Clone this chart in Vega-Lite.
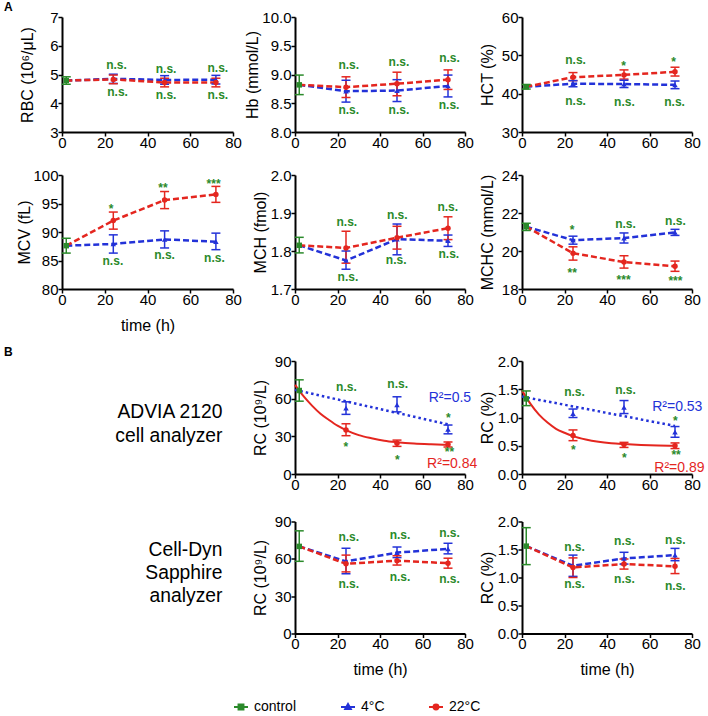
{
"$schema": "https://vega.github.io/schema/vega-lite/v6.json",
"autosize": {"type": "pad"},
"padding": {"left": 4, "top": 0, "right": 4, "bottom": 4},
"background": "white",
"config": {
  "font": "Liberation Sans",
  "view": {"stroke": null},
  "axis": {"grid": false, "domainColor": "#000", "domainWidth": 2, "tickColor": "#000", "tickWidth": 1.5, "tickSize": 4, "labelColor": "#000", "labelFontSize": 15, "titleColor": "#000", "titleFontSize": 16, "titleFontWeight": "normal", "labelFont": "Liberation Sans", "titleFont": "Liberation Sans"},
  "axisX": {"labelPadding": -1, "titlePadding": 10, "labelFlush": false, "titleFontWeight": "normal"},
  "axisY": {"labelPadding": 0, "titleX": -27, "titleFontWeight": "normal"},
  "legend": {"labelFontSize": 14, "labelColor": "#000", "labelFont": "Liberation Sans", "labelOffset": 5, "columnPadding": 40, "symbolSize": 196, "padding": 0},
  "title": {"font": "Liberation Sans", "fontSize": 12, "fontWeight": "bold", "color": "#000"}
},
"datasets": {"d": [
{"p":"RBC","k":"pt","g":"control","t":2,"y":4.79,"lo":4.66,"hi":4.92},
{"p":"RBC","k":"pt","g":"4°C","t":24,"y":4.85,"lo":4.69,"hi":5.01},
{"p":"RBC","k":"pt","g":"4°C","t":48,"y":4.81,"lo":4.66,"hi":4.96},
{"p":"RBC","k":"pt","g":"4°C","t":72,"y":4.82,"lo":4.67,"hi":4.97},
{"p":"RBC","k":"pt","g":"22°C","t":24,"y":4.83,"lo":4.68,"hi":4.98},
{"p":"RBC","k":"pt","g":"22°C","t":48,"y":4.72,"lo":4.57,"hi":4.87},
{"p":"RBC","k":"pt","g":"22°C","t":72,"y":4.72,"lo":4.57,"hi":4.87},
{"p":"RBC","k":"ln","g":"4°C","t":2,"y":4.79},
{"p":"RBC","k":"ln","g":"4°C","t":24,"y":4.85},
{"p":"RBC","k":"ln","g":"4°C","t":48,"y":4.81},
{"p":"RBC","k":"ln","g":"4°C","t":72,"y":4.82},
{"p":"RBC","k":"ln","g":"22°C","t":2,"y":4.79},
{"p":"RBC","k":"ln","g":"22°C","t":24,"y":4.83},
{"p":"RBC","k":"ln","g":"22°C","t":48,"y":4.72},
{"p":"RBC","k":"ln","g":"22°C","t":72,"y":4.72},
{"p":"RBC","k":"ann","t":25.5,"y":5.33,"s":"n.s."},
{"p":"RBC","k":"ann","t":48.7,"y":5.19,"s":"n.s."},
{"p":"RBC","k":"ann","t":72.9,"y":5.24,"s":"n.s."},
{"p":"RBC","k":"ann","t":26,"y":4.39,"s":"n.s."},
{"p":"RBC","k":"ann","t":48.7,"y":4.27,"s":"n.s."},
{"p":"RBC","k":"ann","t":72.9,"y":4.3,"s":"n.s."},

{"p":"Hb","k":"pt","g":"control","t":2,"y":8.82,"lo":8.65,"hi":8.99},
{"p":"Hb","k":"pt","g":"4°C","t":24,"y":8.71,"lo":8.52,"hi":8.9},
{"p":"Hb","k":"pt","g":"4°C","t":48,"y":8.72,"lo":8.53,"hi":8.91},
{"p":"Hb","k":"pt","g":"4°C","t":72,"y":8.8,"lo":8.61,"hi":8.99},
{"p":"Hb","k":"pt","g":"22°C","t":24,"y":8.78,"lo":8.6,"hi":8.96},
{"p":"Hb","k":"pt","g":"22°C","t":48,"y":8.84,"lo":8.63,"hi":9.04},
{"p":"Hb","k":"pt","g":"22°C","t":72,"y":8.91,"lo":8.74,"hi":9.08},
{"p":"Hb","k":"ln","g":"4°C","t":2,"y":8.82},
{"p":"Hb","k":"ln","g":"4°C","t":24,"y":8.71},
{"p":"Hb","k":"ln","g":"4°C","t":48,"y":8.72},
{"p":"Hb","k":"ln","g":"4°C","t":72,"y":8.8},
{"p":"Hb","k":"ln","g":"22°C","t":2,"y":8.82},
{"p":"Hb","k":"ln","g":"22°C","t":24,"y":8.78},
{"p":"Hb","k":"ln","g":"22°C","t":48,"y":8.84},
{"p":"Hb","k":"ln","g":"22°C","t":72,"y":8.91},
{"p":"Hb","k":"ann","t":25.3,"y":9.16,"s":"n.s."},
{"p":"Hb","k":"ann","t":48.9,"y":9.21,"s":"n.s."},
{"p":"Hb","k":"ann","t":72.7,"y":9.29,"s":"n.s."},
{"p":"Hb","k":"ann","t":25.3,"y":8.39,"s":"n.s."},
{"p":"Hb","k":"ann","t":48.9,"y":8.39,"s":"n.s."},
{"p":"Hb","k":"ann","t":72.5,"y":8.47,"s":"n.s."},

{"p":"HCT","k":"pt","g":"control","t":2,"y":41.8,"lo":41.2,"hi":42.4},
{"p":"HCT","k":"pt","g":"4°C","t":24,"y":42.6,"lo":41.8,"hi":43.4},
{"p":"HCT","k":"pt","g":"4°C","t":48,"y":42.5,"lo":41.6,"hi":43.5},
{"p":"HCT","k":"pt","g":"4°C","t":72,"y":42.3,"lo":41.3,"hi":43.3},
{"p":"HCT","k":"pt","g":"22°C","t":24,"y":44.3,"lo":43.4,"hi":45.5},
{"p":"HCT","k":"pt","g":"22°C","t":48,"y":44.9,"lo":43.8,"hi":46.2},
{"p":"HCT","k":"pt","g":"22°C","t":72,"y":45.7,"lo":44.6,"hi":46.9},
{"p":"HCT","k":"ln","g":"4°C","t":2,"y":41.8},
{"p":"HCT","k":"ln","g":"4°C","t":24,"y":42.6},
{"p":"HCT","k":"ln","g":"4°C","t":48,"y":42.5},
{"p":"HCT","k":"ln","g":"4°C","t":72,"y":42.3},
{"p":"HCT","k":"ln","g":"22°C","t":2,"y":41.8},
{"p":"HCT","k":"ln","g":"22°C","t":24,"y":44.3},
{"p":"HCT","k":"ln","g":"22°C","t":48,"y":44.9},
{"p":"HCT","k":"ln","g":"22°C","t":72,"y":45.7},
{"p":"HCT","k":"ann","t":25.2,"y":48.8,"s":"n.s."},
{"p":"HCT","k":"ann","t":47.8,"y":48.1,"s":"*"},
{"p":"HCT","k":"ann","t":71.3,"y":49.0,"s":"*"},
{"p":"HCT","k":"ann","t":25.2,"y":38.2,"s":"n.s."},
{"p":"HCT","k":"ann","t":48.2,"y":37.9,"s":"n.s."},
{"p":"HCT","k":"ann","t":71.8,"y":37.9,"s":"n.s."},

{"p":"MCV","k":"pt","g":"control","t":2,"y":87.6,"lo":86.3,"hi":88.9},
{"p":"MCV","k":"pt","g":"4°C","t":24,"y":87.9,"lo":86.3,"hi":89.5},
{"p":"MCV","k":"pt","g":"4°C","t":48,"y":88.7,"lo":87.2,"hi":90.2},
{"p":"MCV","k":"pt","g":"4°C","t":72,"y":88.3,"lo":86.9,"hi":89.8},
{"p":"MCV","k":"pt","g":"22°C","t":24,"y":92.0,"lo":90.5,"hi":93.5},
{"p":"MCV","k":"pt","g":"22°C","t":48,"y":95.6,"lo":94.1,"hi":97.1},
{"p":"MCV","k":"pt","g":"22°C","t":72,"y":96.6,"lo":95.2,"hi":98.0},
{"p":"MCV","k":"ln","g":"4°C","t":2,"y":87.6},
{"p":"MCV","k":"ln","g":"4°C","t":24,"y":87.9},
{"p":"MCV","k":"ln","g":"4°C","t":48,"y":88.7},
{"p":"MCV","k":"ln","g":"4°C","t":72,"y":88.3},
{"p":"MCV","k":"ln","g":"22°C","t":2,"y":87.6},
{"p":"MCV","k":"ln","g":"22°C","t":24,"y":92.0},
{"p":"MCV","k":"ln","g":"22°C","t":48,"y":95.6},
{"p":"MCV","k":"ln","g":"22°C","t":72,"y":96.6},
{"p":"MCV","k":"ann","t":23.0,"y":94.6,"s":"*"},
{"p":"MCV","k":"ann","t":47.2,"y":98.2,"s":"**"},
{"p":"MCV","k":"ann","t":70.9,"y":98.9,"s":"***"},
{"p":"MCV","k":"ann","t":23.8,"y":84.9,"s":"n.s."},
{"p":"MCV","k":"ann","t":48,"y":86.0,"s":"n.s."},
{"p":"MCV","k":"ann","t":71.3,"y":85.5,"s":"n.s."},

{"p":"MCH","k":"pt","g":"control","t":2,"y":1.815,"lo":1.795,"hi":1.836},
{"p":"MCH","k":"pt","g":"4°C","t":24,"y":1.775,"lo":1.752,"hi":1.8},
{"p":"MCH","k":"pt","g":"4°C","t":48,"y":1.831,"lo":1.79,"hi":1.871},
{"p":"MCH","k":"pt","g":"4°C","t":72,"y":1.827,"lo":1.812,"hi":1.842},
{"p":"MCH","k":"pt","g":"22°C","t":24,"y":1.808,"lo":1.768,"hi":1.852},
{"p":"MCH","k":"pt","g":"22°C","t":48,"y":1.835,"lo":1.805,"hi":1.865},
{"p":"MCH","k":"pt","g":"22°C","t":72,"y":1.86,"lo":1.83,"hi":1.89},
{"p":"MCH","k":"ln","g":"4°C","t":2,"y":1.815},
{"p":"MCH","k":"ln","g":"4°C","t":24,"y":1.775},
{"p":"MCH","k":"ln","g":"4°C","t":48,"y":1.831},
{"p":"MCH","k":"ln","g":"4°C","t":72,"y":1.827},
{"p":"MCH","k":"ln","g":"22°C","t":2,"y":1.815},
{"p":"MCH","k":"ln","g":"22°C","t":24,"y":1.808},
{"p":"MCH","k":"ln","g":"22°C","t":48,"y":1.835},
{"p":"MCH","k":"ln","g":"22°C","t":72,"y":1.86},
{"p":"MCH","k":"ann","t":24.4,"y":1.876,"s":"n.s."},
{"p":"MCH","k":"ann","t":48.1,"y":1.896,"s":"n.s."},
{"p":"MCH","k":"ann","t":71.9,"y":1.916,"s":"n.s."},
{"p":"MCH","k":"ann","t":24.9,"y":1.732,"s":"n.s."},
{"p":"MCH","k":"ann","t":47.6,"y":1.776,"s":"n.s."},
{"p":"MCH","k":"ann","t":72.4,"y":1.792,"s":"n.s."},

{"p":"MCHC","k":"pt","g":"control","t":2,"y":21.28,"lo":21.08,"hi":21.46},
{"p":"MCHC","k":"pt","g":"4°C","t":24,"y":20.57,"lo":20.36,"hi":20.78},
{"p":"MCHC","k":"pt","g":"4°C","t":48,"y":20.68,"lo":20.42,"hi":20.95},
{"p":"MCHC","k":"pt","g":"4°C","t":72,"y":20.98,"lo":20.82,"hi":21.14},
{"p":"MCHC","k":"pt","g":"22°C","t":24,"y":19.88,"lo":19.52,"hi":20.22},
{"p":"MCHC","k":"pt","g":"22°C","t":48,"y":19.42,"lo":19.1,"hi":19.75},
{"p":"MCHC","k":"pt","g":"22°C","t":72,"y":19.2,"lo":18.93,"hi":19.47},
{"p":"MCHC","k":"ln","g":"4°C","t":2,"y":21.28},
{"p":"MCHC","k":"ln","g":"4°C","t":24,"y":20.57},
{"p":"MCHC","k":"ln","g":"4°C","t":48,"y":20.68},
{"p":"MCHC","k":"ln","g":"4°C","t":72,"y":20.98},
{"p":"MCHC","k":"ln","g":"22°C","t":2,"y":21.28},
{"p":"MCHC","k":"ln","g":"22°C","t":24,"y":19.88},
{"p":"MCHC","k":"ln","g":"22°C","t":48,"y":19.42},
{"p":"MCHC","k":"ln","g":"22°C","t":72,"y":19.2},
{"p":"MCHC","k":"ann","t":23.6,"y":21.25,"s":"*"},
{"p":"MCHC","k":"ann","t":48.7,"y":21.4,"s":"n.s."},
{"p":"MCHC","k":"ann","t":72.2,"y":21.6,"s":"n.s."},
{"p":"MCHC","k":"ann","t":23.6,"y":19.0,"s":"**"},
{"p":"MCHC","k":"ann","t":47.8,"y":18.64,"s":"***"},
{"p":"MCHC","k":"ann","t":72.2,"y":18.57,"s":"***"},

{"p":"ARC","k":"pt","g":"control","t":2,"y":66.5,"lo":58,"hi":75},
{"p":"ARC","k":"pt","g":"4°C","t":24,"y":52.5,"lo":47.5,"hi":57.5},
{"p":"ARC","k":"pt","g":"4°C","t":48,"y":55,"lo":49.5,"hi":61.5},
{"p":"ARC","k":"pt","g":"4°C","t":72,"y":35.5,"lo":32,"hi":39},
{"p":"ARC","k":"pt","g":"22°C","t":24,"y":35,"lo":30.5,"hi":40},
{"p":"ARC","k":"pt","g":"22°C","t":48,"y":24.5,"lo":22,"hi":27},
{"p":"ARC","k":"pt","g":"22°C","t":72,"y":23.5,"lo":21.5,"hi":25.5},
{"p":"ARC","k":"fit","g":"4°C","t":0,"y":67},
{"p":"ARC","k":"fit","g":"4°C","t":72,"y":39.5},
{"p":"ARC","k":"fit","g":"22°C","t":0,"y":71},
{"p":"ARC","k":"fit","g":"22°C","t":4,"y":62},
{"p":"ARC","k":"fit","g":"22°C","t":8,"y":54.5},
{"p":"ARC","k":"fit","g":"22°C","t":12,"y":48},
{"p":"ARC","k":"fit","g":"22°C","t":16,"y":43},
{"p":"ARC","k":"fit","g":"22°C","t":20,"y":38.5},
{"p":"ARC","k":"fit","g":"22°C","t":24,"y":35},
{"p":"ARC","k":"fit","g":"22°C","t":30,"y":31},
{"p":"ARC","k":"fit","g":"22°C","t":36,"y":28.5},
{"p":"ARC","k":"fit","g":"22°C","t":42,"y":26.5},
{"p":"ARC","k":"fit","g":"22°C","t":48,"y":25.3},
{"p":"ARC","k":"fit","g":"22°C","t":56,"y":24.2},
{"p":"ARC","k":"fit","g":"22°C","t":64,"y":23.6},
{"p":"ARC","k":"fit","g":"22°C","t":72,"y":23.2},
{"p":"ARC","k":"ann","t":24.2,"y":69.6,"s":"n.s."},
{"p":"ARC","k":"ann","t":48.3,"y":71.5,"s":"n.s."},
{"p":"ARC","k":"ann","t":72.2,"y":46.8,"s":"*"},
{"p":"ARC","k":"ann","t":23.9,"y":23.8,"s":"*"},
{"p":"ARC","k":"ann","t":48.1,"y":13.7,"s":"*"},
{"p":"ARC","k":"ann","t":72.7,"y":20,"s":"**"},
{"p":"ARC","k":"r2","g":"4°C","t":82.9,"y":60.8,"s":"R²=0.5"},
{"p":"ARC","k":"r2","g":"22°C","t":85.8,"y":7.6,"s":"R²=0.84"},

{"p":"ARCp","k":"pt","g":"control","t":2,"y":1.33,"lo":1.21,"hi":1.47},
{"p":"ARCp","k":"pt","g":"4°C","t":24,"y":1.07,"lo":1.0,"hi":1.15},
{"p":"ARCp","k":"pt","g":"4°C","t":48,"y":1.18,"lo":1.07,"hi":1.3},
{"p":"ARCp","k":"pt","g":"4°C","t":72,"y":0.74,"lo":0.65,"hi":0.84},
{"p":"ARCp","k":"pt","g":"22°C","t":24,"y":0.68,"lo":0.59,"hi":0.78},
{"p":"ARCp","k":"pt","g":"22°C","t":48,"y":0.52,"lo":0.47,"hi":0.56},
{"p":"ARCp","k":"pt","g":"22°C","t":72,"y":0.5,"lo":0.45,"hi":0.55},
{"p":"ARCp","k":"fit","g":"4°C","t":0,"y":1.37},
{"p":"ARCp","k":"fit","g":"4°C","t":72,"y":0.85},
{"p":"ARCp","k":"fit","g":"22°C","t":0,"y":1.48},
{"p":"ARCp","k":"fit","g":"22°C","t":4,"y":1.24},
{"p":"ARCp","k":"fit","g":"22°C","t":8,"y":1.05},
{"p":"ARCp","k":"fit","g":"22°C","t":12,"y":0.91},
{"p":"ARCp","k":"fit","g":"22°C","t":16,"y":0.8},
{"p":"ARCp","k":"fit","g":"22°C","t":20,"y":0.73},
{"p":"ARCp","k":"fit","g":"22°C","t":24,"y":0.67},
{"p":"ARCp","k":"fit","g":"22°C","t":30,"y":0.61},
{"p":"ARCp","k":"fit","g":"22°C","t":36,"y":0.57},
{"p":"ARCp","k":"fit","g":"22°C","t":42,"y":0.545},
{"p":"ARCp","k":"fit","g":"22°C","t":48,"y":0.53},
{"p":"ARCp","k":"fit","g":"22°C","t":56,"y":0.515},
{"p":"ARCp","k":"fit","g":"22°C","t":64,"y":0.505},
{"p":"ARCp","k":"fit","g":"22°C","t":72,"y":0.5},
{"p":"ARCp","k":"ann","t":24.7,"y":1.45,"s":"n.s."},
{"p":"ARCp","k":"ann","t":48.7,"y":1.48,"s":"n.s."},
{"p":"ARCp","k":"ann","t":72.2,"y":0.99,"s":"*"},
{"p":"ARCp","k":"ann","t":24.2,"y":0.48,"s":"*"},
{"p":"ARCp","k":"ann","t":48.2,"y":0.33,"s":"*"},
{"p":"ARCp","k":"ann","t":72.5,"y":0.385,"s":"**"},
{"p":"ARCp","k":"r2","g":"4°C","t":84.9,"y":1.18,"s":"R²=0.53"},
{"p":"ARCp","k":"r2","g":"22°C","t":85.9,"y":0.1,"s":"R²=0.89"},

{"p":"CRC","k":"pt","g":"control","t":2,"y":70,"lo":58,"hi":82.5},
{"p":"CRC","k":"pt","g":"4°C","t":24,"y":58,"lo":48,"hi":68.5},
{"p":"CRC","k":"pt","g":"4°C","t":48,"y":65,"lo":61,"hi":69.5},
{"p":"CRC","k":"pt","g":"4°C","t":72,"y":68,"lo":64,"hi":72.5},
{"p":"CRC","k":"pt","g":"22°C","t":24,"y":56,"lo":49.5,"hi":63},
{"p":"CRC","k":"pt","g":"22°C","t":48,"y":58.5,"lo":55,"hi":62.5},
{"p":"CRC","k":"pt","g":"22°C","t":72,"y":56.5,"lo":52.5,"hi":60.5},
{"p":"CRC","k":"ln","g":"4°C","t":2,"y":70},
{"p":"CRC","k":"ln","g":"4°C","t":24,"y":58},
{"p":"CRC","k":"ln","g":"4°C","t":48,"y":65},
{"p":"CRC","k":"ln","g":"4°C","t":72,"y":68},
{"p":"CRC","k":"ln","g":"22°C","t":2,"y":70},
{"p":"CRC","k":"ln","g":"22°C","t":24,"y":56},
{"p":"CRC","k":"ln","g":"22°C","t":48,"y":58.5},
{"p":"CRC","k":"ln","g":"22°C","t":72,"y":56.5},
{"p":"CRC","k":"ann","t":25.3,"y":77.6,"s":"n.s."},
{"p":"CRC","k":"ann","t":49.4,"y":78.9,"s":"n.s."},
{"p":"CRC","k":"ann","t":72.7,"y":81,"s":"n.s."},
{"p":"CRC","k":"ann","t":25.3,"y":40.1,"s":"n.s."},
{"p":"CRC","k":"ann","t":49.4,"y":45.5,"s":"n.s."},
{"p":"CRC","k":"ann","t":72.7,"y":44.1,"s":"n.s."},

{"p":"CRCp","k":"pt","g":"control","t":2,"y":1.56,"lo":1.23,"hi":1.89},
{"p":"CRCp","k":"pt","g":"4°C","t":24,"y":1.21,"lo":1.02,"hi":1.4},
{"p":"CRCp","k":"pt","g":"4°C","t":48,"y":1.34,"lo":1.24,"hi":1.45},
{"p":"CRCp","k":"pt","g":"4°C","t":72,"y":1.4,"lo":1.3,"hi":1.52},
{"p":"CRCp","k":"pt","g":"22°C","t":24,"y":1.18,"lo":1.0,"hi":1.35},
{"p":"CRCp","k":"pt","g":"22°C","t":48,"y":1.24,"lo":1.15,"hi":1.33},
{"p":"CRCp","k":"pt","g":"22°C","t":72,"y":1.2,"lo":1.07,"hi":1.34},
{"p":"CRCp","k":"ln","g":"4°C","t":2,"y":1.56},
{"p":"CRCp","k":"ln","g":"4°C","t":24,"y":1.21},
{"p":"CRCp","k":"ln","g":"4°C","t":48,"y":1.34},
{"p":"CRCp","k":"ln","g":"4°C","t":72,"y":1.4},
{"p":"CRCp","k":"ln","g":"22°C","t":2,"y":1.56},
{"p":"CRCp","k":"ln","g":"22°C","t":24,"y":1.18},
{"p":"CRCp","k":"ln","g":"22°C","t":48,"y":1.24},
{"p":"CRCp","k":"ln","g":"22°C","t":72,"y":1.2},
{"p":"CRCp","k":"ann","t":24.7,"y":1.54,"s":"n.s."},
{"p":"CRCp","k":"ann","t":48.2,"y":1.65,"s":"n.s."},
{"p":"CRCp","k":"ann","t":72.1,"y":1.67,"s":"n.s."},
{"p":"CRCp","k":"ann","t":24.7,"y":0.88,"s":"n.s."},
{"p":"CRCp","k":"ann","t":48.2,"y":0.98,"s":"n.s."},
{"p":"CRCp","k":"ann","t":72.1,"y":0.84,"s":"n.s."}
]},
"data": {"name": "d"},
"bounds": "full",
"spacing": 12,
"vconcat": [
 {"bounds": "full", "spacing": 18, "vconcat": [
  {"bounds": "flush", "spacing": 62, "hconcat": [
   {"width": 171, "height": 115,
    "title": {"text": "A", "anchor": "start", "frame": "group", "dx": -58, "offset": -3.5},
    "transform": [{"filter": "datum.p === 'RBC'"}],
    "encoding": {
     "x": {"field": "t", "type": "quantitative", "scale": {"domain": [0, 80], "nice": false, "zero": false}, "axis": {"values": [0, 20, 40, 60, 80], "title": null}},
     "y": {"field": "y", "type": "quantitative", "scale": {"domain": [3, 7], "nice": false, "zero": false}, "axis": {"values": [3, 4, 5, 6, 7], "format": "d", "title": "RBC (10⁶/μL)"}},
     "color": {"field": "g", "type": "nominal", "scale": {"domain": ["control", "4°C", "22°C"], "range": ["#2b8a2b", "#2332d8", "#e4261f"]},
      "legend": {"title": null, "orient": "none", "legendX": 171, "legendY": 682, "direction": "horizontal",
       "encode": {"symbols": {"update": {
        "shape": {"signal": "datum.value === 'control' ? 'M-1,0H1M-0.35,-0.35H0.35V0.35H-0.35Z' : datum.value === '4°C' ? 'M-1,0H1M0,-0.42L0.4,0.3H-0.4Z' : 'M-1,0H1M0.35,0A0.35,0.35,0,1,1,-0.35,0A0.35,0.35,0,1,1,0.35,0Z'"},
        "fill": {"scale": "color", "field": "value"},
        "stroke": {"scale": "color", "field": "value"},
        "strokeWidth": {"value": 2},
        "size": {"value": 196},
        "opacity": {"value": 1}}}}}}
    },
    "layer": [
     {"transform": [{"filter": "datum.k === 'ln'"}], "mark": {"type": "line", "strokeDash": [6, 3], "strokeWidth": 2.5}},
     {"transform": [{"filter": "datum.k === 'pt'"}], "mark": {"type": "rule", "strokeWidth": 1.5}, "encoding": {"y": {"field": "lo", "type": "quantitative"}, "y2": {"field": "hi"}}},
     {"transform": [{"filter": "datum.k === 'pt'"}], "mark": {"type": "tick", "orient": "horizontal", "size": 9, "thickness": 1.5, "opacity": 1}, "encoding": {"y": {"field": "lo", "type": "quantitative"}}},
     {"transform": [{"filter": "datum.k === 'pt'"}], "mark": {"type": "tick", "orient": "horizontal", "size": 9, "thickness": 1.5, "opacity": 1}, "encoding": {"y": {"field": "hi", "type": "quantitative"}}},
     {"transform": [{"filter": "datum.k === 'pt' && datum.g === 'control'"}], "mark": {"type": "point", "shape": "square", "filled": true, "size": 30, "opacity": 1}},
     {"transform": [{"filter": "datum.k === 'pt' && datum.g === '4°C'"}], "mark": {"type": "point", "shape": "triangle-up", "filled": true, "size": 30, "opacity": 1}},
     {"transform": [{"filter": "datum.k === 'pt' && datum.g === '22°C'"}], "mark": {"type": "point", "shape": "circle", "filled": true, "size": 30, "opacity": 1}},
     {"transform": [{"filter": "datum.k === 'ann' && datum.s === 'n.s.'"}], "mark": {"type": "text", "fontSize": 12, "fontWeight": "bold"}, "encoding": {"text": {"field": "s", "type": "nominal"}, "color": {"value": "#2b8a2b"}}},
     {"transform": [{"filter": "datum.k === 'ann' && datum.s !== 'n.s.'"}], "mark": {"type": "text", "fontSize": 12, "fontWeight": "bold", "dy": 3}, "encoding": {"text": {"field": "s", "type": "nominal"}, "color": {"value": "#2b8a2b"}}}
    ]},
   {"bounds": "flush", "spacing": 57, "hconcat": [
    {"width": 170, "height": 115,
     "transform": [{"filter": "datum.p === 'Hb'"}],
     "encoding": {
      "x": {"field": "t", "type": "quantitative", "scale": {"domain": [0, 80], "nice": false, "zero": false}, "axis": {"values": [0, 20, 40, 60, 80], "title": null}},
      "y": {"field": "y", "type": "quantitative", "scale": {"domain": [8, 10], "nice": false, "zero": false}, "axis": {"values": [8, 8.5, 9, 9.5, 10], "format": ".1f", "title": "Hb (mmol/L)", "titleX": -35}},
      "color": {"field": "g", "type": "nominal"}
     },
     "layer": [
      {"transform": [{"filter": "datum.k === 'ln'"}], "mark": {"type": "line", "strokeDash": [6, 3], "strokeWidth": 2.5}},
      {"transform": [{"filter": "datum.k === 'pt'"}], "mark": {"type": "rule", "strokeWidth": 1.5}, "encoding": {"y": {"field": "lo", "type": "quantitative"}, "y2": {"field": "hi"}}},
      {"transform": [{"filter": "datum.k === 'pt'"}], "mark": {"type": "tick", "orient": "horizontal", "size": 9, "thickness": 1.5, "opacity": 1}, "encoding": {"y": {"field": "lo", "type": "quantitative"}}},
      {"transform": [{"filter": "datum.k === 'pt'"}], "mark": {"type": "tick", "orient": "horizontal", "size": 9, "thickness": 1.5, "opacity": 1}, "encoding": {"y": {"field": "hi", "type": "quantitative"}}},
      {"transform": [{"filter": "datum.k === 'pt' && datum.g === 'control'"}], "mark": {"type": "point", "shape": "square", "filled": true, "size": 30, "opacity": 1}},
      {"transform": [{"filter": "datum.k === 'pt' && datum.g === '4°C'"}], "mark": {"type": "point", "shape": "triangle-up", "filled": true, "size": 30, "opacity": 1}},
      {"transform": [{"filter": "datum.k === 'pt' && datum.g === '22°C'"}], "mark": {"type": "point", "shape": "circle", "filled": true, "size": 30, "opacity": 1}},
      {"transform": [{"filter": "datum.k === 'ann' && datum.s === 'n.s.'"}], "mark": {"type": "text", "fontSize": 12, "fontWeight": "bold"}, "encoding": {"text": {"field": "s", "type": "nominal"}, "color": {"value": "#2b8a2b"}}},
      {"transform": [{"filter": "datum.k === 'ann' && datum.s !== 'n.s.'"}], "mark": {"type": "text", "fontSize": 12, "fontWeight": "bold", "dy": 3}, "encoding": {"text": {"field": "s", "type": "nominal"}, "color": {"value": "#2b8a2b"}}}
     ]},
    {"width": 170, "height": 115,
     "transform": [{"filter": "datum.p === 'HCT'"}],
     "encoding": {
      "x": {"field": "t", "type": "quantitative", "scale": {"domain": [0, 80], "nice": false, "zero": false}, "axis": {"values": [0, 20, 40, 60, 80], "title": null}},
      "y": {"field": "y", "type": "quantitative", "scale": {"domain": [30, 60], "nice": false, "zero": false}, "axis": {"values": [30, 40, 50, 60], "format": "d", "title": "HCT (%)"}},
      "color": {"field": "g", "type": "nominal"}
     },
     "layer": [
      {"transform": [{"filter": "datum.k === 'ln'"}], "mark": {"type": "line", "strokeDash": [6, 3], "strokeWidth": 2.5}},
      {"transform": [{"filter": "datum.k === 'pt'"}], "mark": {"type": "rule", "strokeWidth": 1.5}, "encoding": {"y": {"field": "lo", "type": "quantitative"}, "y2": {"field": "hi"}}},
      {"transform": [{"filter": "datum.k === 'pt'"}], "mark": {"type": "tick", "orient": "horizontal", "size": 9, "thickness": 1.5, "opacity": 1}, "encoding": {"y": {"field": "lo", "type": "quantitative"}}},
      {"transform": [{"filter": "datum.k === 'pt'"}], "mark": {"type": "tick", "orient": "horizontal", "size": 9, "thickness": 1.5, "opacity": 1}, "encoding": {"y": {"field": "hi", "type": "quantitative"}}},
      {"transform": [{"filter": "datum.k === 'pt' && datum.g === 'control'"}], "mark": {"type": "point", "shape": "square", "filled": true, "size": 30, "opacity": 1}},
      {"transform": [{"filter": "datum.k === 'pt' && datum.g === '4°C'"}], "mark": {"type": "point", "shape": "triangle-up", "filled": true, "size": 30, "opacity": 1}},
      {"transform": [{"filter": "datum.k === 'pt' && datum.g === '22°C'"}], "mark": {"type": "point", "shape": "circle", "filled": true, "size": 30, "opacity": 1}},
      {"transform": [{"filter": "datum.k === 'ann' && datum.s === 'n.s.'"}], "mark": {"type": "text", "fontSize": 12, "fontWeight": "bold"}, "encoding": {"text": {"field": "s", "type": "nominal"}, "color": {"value": "#2b8a2b"}}},
      {"transform": [{"filter": "datum.k === 'ann' && datum.s !== 'n.s.'"}], "mark": {"type": "text", "fontSize": 12, "fontWeight": "bold", "dy": 3}, "encoding": {"text": {"field": "s", "type": "nominal"}, "color": {"value": "#2b8a2b"}}}
     ]}
   ]}
  ]},
  {"bounds": "flush", "spacing": 62, "hconcat": [
   {"width": 171, "height": 114,
    "transform": [{"filter": "datum.p === 'MCV'"}],
    "encoding": {
     "x": {"field": "t", "type": "quantitative", "scale": {"domain": [0, 80], "nice": false, "zero": false}, "axis": {"values": [0, 20, 40, 60, 80], "title": "time (h)"}},
     "y": {"field": "y", "type": "quantitative", "scale": {"domain": [80, 100], "nice": false, "zero": false}, "axis": {"values": [80, 85, 90, 95, 100], "format": "d", "title": "MCV (fL)", "titleX": -30}},
     "color": {"field": "g", "type": "nominal"}
    },
    "layer": [
     {"transform": [{"filter": "datum.k === 'ln'"}], "mark": {"type": "line", "strokeDash": [6, 3], "strokeWidth": 2.5}},
     {"transform": [{"filter": "datum.k === 'pt'"}], "mark": {"type": "rule", "strokeWidth": 1.5}, "encoding": {"y": {"field": "lo", "type": "quantitative"}, "y2": {"field": "hi"}}},
     {"transform": [{"filter": "datum.k === 'pt'"}], "mark": {"type": "tick", "orient": "horizontal", "size": 9, "thickness": 1.5, "opacity": 1}, "encoding": {"y": {"field": "lo", "type": "quantitative"}}},
     {"transform": [{"filter": "datum.k === 'pt'"}], "mark": {"type": "tick", "orient": "horizontal", "size": 9, "thickness": 1.5, "opacity": 1}, "encoding": {"y": {"field": "hi", "type": "quantitative"}}},
     {"transform": [{"filter": "datum.k === 'pt' && datum.g === 'control'"}], "mark": {"type": "point", "shape": "square", "filled": true, "size": 30, "opacity": 1}},
     {"transform": [{"filter": "datum.k === 'pt' && datum.g === '4°C'"}], "mark": {"type": "point", "shape": "triangle-up", "filled": true, "size": 30, "opacity": 1}},
     {"transform": [{"filter": "datum.k === 'pt' && datum.g === '22°C'"}], "mark": {"type": "point", "shape": "circle", "filled": true, "size": 30, "opacity": 1}},
     {"transform": [{"filter": "datum.k === 'ann' && datum.s === 'n.s.'"}], "mark": {"type": "text", "fontSize": 12, "fontWeight": "bold"}, "encoding": {"text": {"field": "s", "type": "nominal"}, "color": {"value": "#2b8a2b"}}},
     {"transform": [{"filter": "datum.k === 'ann' && datum.s !== 'n.s.'"}], "mark": {"type": "text", "fontSize": 12, "fontWeight": "bold", "dy": 3}, "encoding": {"text": {"field": "s", "type": "nominal"}, "color": {"value": "#2b8a2b"}}}
    ]},
   {"bounds": "flush", "spacing": 57, "hconcat": [
    {"width": 170, "height": 114,
     "transform": [{"filter": "datum.p === 'MCH'"}],
     "encoding": {
      "x": {"field": "t", "type": "quantitative", "scale": {"domain": [0, 80], "nice": false, "zero": false}, "axis": {"values": [0, 20, 40, 60, 80], "title": null}},
      "y": {"field": "y", "type": "quantitative", "scale": {"domain": [1.7, 2.0], "nice": false, "zero": false}, "axis": {"values": [1.7, 1.8, 1.9, 2.0], "format": ".1f", "title": "MCH (fmol)"}},
      "color": {"field": "g", "type": "nominal"}
     },
     "layer": [
      {"transform": [{"filter": "datum.k === 'ln'"}], "mark": {"type": "line", "strokeDash": [6, 3], "strokeWidth": 2.5}},
      {"transform": [{"filter": "datum.k === 'pt'"}], "mark": {"type": "rule", "strokeWidth": 1.5}, "encoding": {"y": {"field": "lo", "type": "quantitative"}, "y2": {"field": "hi"}}},
      {"transform": [{"filter": "datum.k === 'pt'"}], "mark": {"type": "tick", "orient": "horizontal", "size": 9, "thickness": 1.5, "opacity": 1}, "encoding": {"y": {"field": "lo", "type": "quantitative"}}},
      {"transform": [{"filter": "datum.k === 'pt'"}], "mark": {"type": "tick", "orient": "horizontal", "size": 9, "thickness": 1.5, "opacity": 1}, "encoding": {"y": {"field": "hi", "type": "quantitative"}}},
      {"transform": [{"filter": "datum.k === 'pt' && datum.g === 'control'"}], "mark": {"type": "point", "shape": "square", "filled": true, "size": 30, "opacity": 1}},
      {"transform": [{"filter": "datum.k === 'pt' && datum.g === '4°C'"}], "mark": {"type": "point", "shape": "triangle-up", "filled": true, "size": 30, "opacity": 1}},
      {"transform": [{"filter": "datum.k === 'pt' && datum.g === '22°C'"}], "mark": {"type": "point", "shape": "circle", "filled": true, "size": 30, "opacity": 1}},
      {"transform": [{"filter": "datum.k === 'ann' && datum.s === 'n.s.'"}], "mark": {"type": "text", "fontSize": 12, "fontWeight": "bold"}, "encoding": {"text": {"field": "s", "type": "nominal"}, "color": {"value": "#2b8a2b"}}},
      {"transform": [{"filter": "datum.k === 'ann' && datum.s !== 'n.s.'"}], "mark": {"type": "text", "fontSize": 12, "fontWeight": "bold", "dy": 3}, "encoding": {"text": {"field": "s", "type": "nominal"}, "color": {"value": "#2b8a2b"}}}
     ]},
    {"width": 170, "height": 114,
     "transform": [{"filter": "datum.p === 'MCHC'"}],
     "encoding": {
      "x": {"field": "t", "type": "quantitative", "scale": {"domain": [0, 80], "nice": false, "zero": false}, "axis": {"values": [0, 20, 40, 60, 80], "title": null}},
      "y": {"field": "y", "type": "quantitative", "scale": {"domain": [18, 24], "nice": false, "zero": false}, "axis": {"values": [18, 20, 22, 24], "format": "d", "title": "MCHC (mmol/L)"}},
      "color": {"field": "g", "type": "nominal"}
     },
     "layer": [
      {"transform": [{"filter": "datum.k === 'ln'"}], "mark": {"type": "line", "strokeDash": [6, 3], "strokeWidth": 2.5}},
      {"transform": [{"filter": "datum.k === 'pt'"}], "mark": {"type": "rule", "strokeWidth": 1.5}, "encoding": {"y": {"field": "lo", "type": "quantitative"}, "y2": {"field": "hi"}}},
      {"transform": [{"filter": "datum.k === 'pt'"}], "mark": {"type": "tick", "orient": "horizontal", "size": 9, "thickness": 1.5, "opacity": 1}, "encoding": {"y": {"field": "lo", "type": "quantitative"}}},
      {"transform": [{"filter": "datum.k === 'pt'"}], "mark": {"type": "tick", "orient": "horizontal", "size": 9, "thickness": 1.5, "opacity": 1}, "encoding": {"y": {"field": "hi", "type": "quantitative"}}},
      {"transform": [{"filter": "datum.k === 'pt' && datum.g === 'control'"}], "mark": {"type": "point", "shape": "square", "filled": true, "size": 30, "opacity": 1}},
      {"transform": [{"filter": "datum.k === 'pt' && datum.g === '4°C'"}], "mark": {"type": "point", "shape": "triangle-up", "filled": true, "size": 30, "opacity": 1}},
      {"transform": [{"filter": "datum.k === 'pt' && datum.g === '22°C'"}], "mark": {"type": "point", "shape": "circle", "filled": true, "size": 30, "opacity": 1}},
      {"transform": [{"filter": "datum.k === 'ann' && datum.s === 'n.s.'"}], "mark": {"type": "text", "fontSize": 12, "fontWeight": "bold"}, "encoding": {"text": {"field": "s", "type": "nominal"}, "color": {"value": "#2b8a2b"}}},
      {"transform": [{"filter": "datum.k === 'ann' && datum.s !== 'n.s.'"}], "mark": {"type": "text", "fontSize": 12, "fontWeight": "bold", "dy": 3}, "encoding": {"text": {"field": "s", "type": "nominal"}, "color": {"value": "#2b8a2b"}}}
     ]}
   ]}
  ]}
 ]},
 {"bounds": "full", "spacing": 22.5, "vconcat": [
  {"bounds": "flush", "spacing": 62, "hconcat": [
   {"width": 171, "height": 113,
    "title": {"text": "B", "anchor": "start", "frame": "group", "dx": -58, "offset": 2.5},
    "data": {"values": [{"lab": "ADVIA 2120\ncell analyzer"}]},
    "mark": {"type": "text", "align": "right", "baseline": "middle", "fontSize": 19.3, "lineBreak": "\n", "lineHeight": 23.5, "dx": 75, "dy": -5.5, "color": "#000"},
    "encoding": {"text": {"field": "lab", "type": "nominal"}}},
   {"bounds": "flush", "spacing": 57, "hconcat": [
    {"width": 170, "height": 113,
     "transform": [{"filter": "datum.p === 'ARC'"}],
     "encoding": {
      "x": {"field": "t", "type": "quantitative", "scale": {"domain": [0, 80], "nice": false, "zero": false}, "axis": {"values": [0, 20, 40, 60, 80], "title": null}},
      "y": {"field": "y", "type": "quantitative", "scale": {"domain": [0, 90], "nice": false, "zero": false}, "axis": {"values": [0, 30, 60, 90], "format": "d", "title": "RC (10⁹/L)"}},
      "color": {"field": "g", "type": "nominal"}
     },
     "layer": [
      {"transform": [{"filter": "datum.k === 'fit' && datum.g === '4°C'"}], "mark": {"type": "line", "strokeDash": [2.5, 3], "strokeWidth": 2.5}},
      {"transform": [{"filter": "datum.k === 'fit' && datum.g === '22°C'"}], "mark": {"type": "line", "strokeWidth": 2, "interpolate": "monotone"}},
      {"transform": [{"filter": "datum.k === 'pt'"}], "mark": {"type": "rule", "strokeWidth": 1.5}, "encoding": {"y": {"field": "lo", "type": "quantitative"}, "y2": {"field": "hi"}}},
      {"transform": [{"filter": "datum.k === 'pt'"}], "mark": {"type": "tick", "orient": "horizontal", "size": 9, "thickness": 1.5, "opacity": 1}, "encoding": {"y": {"field": "lo", "type": "quantitative"}}},
      {"transform": [{"filter": "datum.k === 'pt'"}], "mark": {"type": "tick", "orient": "horizontal", "size": 9, "thickness": 1.5, "opacity": 1}, "encoding": {"y": {"field": "hi", "type": "quantitative"}}},
      {"transform": [{"filter": "datum.k === 'pt' && datum.g === 'control'"}], "mark": {"type": "point", "shape": "square", "filled": true, "size": 30, "opacity": 1}},
      {"transform": [{"filter": "datum.k === 'pt' && datum.g === '4°C'"}], "mark": {"type": "point", "shape": "triangle-up", "filled": true, "size": 30, "opacity": 1}},
      {"transform": [{"filter": "datum.k === 'pt' && datum.g === '22°C'"}], "mark": {"type": "point", "shape": "circle", "filled": true, "size": 30, "opacity": 1}},
      {"transform": [{"filter": "datum.k === 'ann' && datum.s === 'n.s.'"}], "mark": {"type": "text", "fontSize": 12, "fontWeight": "bold"}, "encoding": {"text": {"field": "s", "type": "nominal"}, "color": {"value": "#2b8a2b"}}},
      {"transform": [{"filter": "datum.k === 'ann' && datum.s !== 'n.s.'"}], "mark": {"type": "text", "fontSize": 12, "fontWeight": "bold", "dy": 3}, "encoding": {"text": {"field": "s", "type": "nominal"}, "color": {"value": "#2b8a2b"}}},
      {"transform": [{"filter": "datum.k === 'r2'"}], "mark": {"type": "text", "fontSize": 14, "align": "right"}, "encoding": {"text": {"field": "s", "type": "nominal"}}}
     ]},
    {"width": 170, "height": 113,
     "transform": [{"filter": "datum.p === 'ARCp'"}],
     "encoding": {
      "x": {"field": "t", "type": "quantitative", "scale": {"domain": [0, 80], "nice": false, "zero": false}, "axis": {"values": [0, 20, 40, 60, 80], "title": null}},
      "y": {"field": "y", "type": "quantitative", "scale": {"domain": [0, 2], "nice": false, "zero": false}, "axis": {"values": [0, 0.5, 1, 1.5, 2], "format": ".1f", "title": "RC (%)"}},
      "color": {"field": "g", "type": "nominal"}
     },
     "layer": [
      {"transform": [{"filter": "datum.k === 'fit' && datum.g === '4°C'"}], "mark": {"type": "line", "strokeDash": [2.5, 3], "strokeWidth": 2.5}},
      {"transform": [{"filter": "datum.k === 'fit' && datum.g === '22°C'"}], "mark": {"type": "line", "strokeWidth": 2, "interpolate": "monotone"}},
      {"transform": [{"filter": "datum.k === 'pt'"}], "mark": {"type": "rule", "strokeWidth": 1.5}, "encoding": {"y": {"field": "lo", "type": "quantitative"}, "y2": {"field": "hi"}}},
      {"transform": [{"filter": "datum.k === 'pt'"}], "mark": {"type": "tick", "orient": "horizontal", "size": 9, "thickness": 1.5, "opacity": 1}, "encoding": {"y": {"field": "lo", "type": "quantitative"}}},
      {"transform": [{"filter": "datum.k === 'pt'"}], "mark": {"type": "tick", "orient": "horizontal", "size": 9, "thickness": 1.5, "opacity": 1}, "encoding": {"y": {"field": "hi", "type": "quantitative"}}},
      {"transform": [{"filter": "datum.k === 'pt' && datum.g === 'control'"}], "mark": {"type": "point", "shape": "square", "filled": true, "size": 30, "opacity": 1}},
      {"transform": [{"filter": "datum.k === 'pt' && datum.g === '4°C'"}], "mark": {"type": "point", "shape": "triangle-up", "filled": true, "size": 30, "opacity": 1}},
      {"transform": [{"filter": "datum.k === 'pt' && datum.g === '22°C'"}], "mark": {"type": "point", "shape": "circle", "filled": true, "size": 30, "opacity": 1}},
      {"transform": [{"filter": "datum.k === 'ann' && datum.s === 'n.s.'"}], "mark": {"type": "text", "fontSize": 12, "fontWeight": "bold"}, "encoding": {"text": {"field": "s", "type": "nominal"}, "color": {"value": "#2b8a2b"}}},
      {"transform": [{"filter": "datum.k === 'ann' && datum.s !== 'n.s.'"}], "mark": {"type": "text", "fontSize": 12, "fontWeight": "bold", "dy": 3}, "encoding": {"text": {"field": "s", "type": "nominal"}, "color": {"value": "#2b8a2b"}}},
      {"transform": [{"filter": "datum.k === 'r2'"}], "mark": {"type": "text", "fontSize": 14, "align": "right"}, "encoding": {"text": {"field": "s", "type": "nominal"}}}
     ]}
   ]}
  ]},
  {"bounds": "flush", "spacing": 62, "hconcat": [
   {"width": 171, "height": 112,
    "data": {"values": [{"lab": "Cell-Dyn\nSapphire\nanalyzer"}]},
    "mark": {"type": "text", "align": "right", "baseline": "middle", "fontSize": 19.3, "lineBreak": "\n", "lineHeight": 23, "dx": 75, "dy": -27.5, "color": "#000"},
    "encoding": {"text": {"field": "lab", "type": "nominal"}}},
   {"bounds": "flush", "spacing": 57, "hconcat": [
    {"width": 170, "height": 112,
     "transform": [{"filter": "datum.p === 'CRC'"}],
     "encoding": {
      "x": {"field": "t", "type": "quantitative", "scale": {"domain": [0, 80], "nice": false, "zero": false}, "axis": {"values": [0, 20, 40, 60, 80], "title": "time (h)"}},
      "y": {"field": "y", "type": "quantitative", "scale": {"domain": [0, 90], "nice": false, "zero": false}, "axis": {"values": [0, 30, 60, 90], "format": "d", "title": "RC (10⁹/L)"}},
      "color": {"field": "g", "type": "nominal"}
     },
     "layer": [
      {"transform": [{"filter": "datum.k === 'ln'"}], "mark": {"type": "line", "strokeDash": [6, 3], "strokeWidth": 2.5}},
      {"transform": [{"filter": "datum.k === 'pt'"}], "mark": {"type": "rule", "strokeWidth": 1.5}, "encoding": {"y": {"field": "lo", "type": "quantitative"}, "y2": {"field": "hi"}}},
      {"transform": [{"filter": "datum.k === 'pt'"}], "mark": {"type": "tick", "orient": "horizontal", "size": 9, "thickness": 1.5, "opacity": 1}, "encoding": {"y": {"field": "lo", "type": "quantitative"}}},
      {"transform": [{"filter": "datum.k === 'pt'"}], "mark": {"type": "tick", "orient": "horizontal", "size": 9, "thickness": 1.5, "opacity": 1}, "encoding": {"y": {"field": "hi", "type": "quantitative"}}},
      {"transform": [{"filter": "datum.k === 'pt' && datum.g === 'control'"}], "mark": {"type": "point", "shape": "square", "filled": true, "size": 30, "opacity": 1}},
      {"transform": [{"filter": "datum.k === 'pt' && datum.g === '4°C'"}], "mark": {"type": "point", "shape": "triangle-up", "filled": true, "size": 30, "opacity": 1}},
      {"transform": [{"filter": "datum.k === 'pt' && datum.g === '22°C'"}], "mark": {"type": "point", "shape": "circle", "filled": true, "size": 30, "opacity": 1}},
      {"transform": [{"filter": "datum.k === 'ann' && datum.s === 'n.s.'"}], "mark": {"type": "text", "fontSize": 12, "fontWeight": "bold"}, "encoding": {"text": {"field": "s", "type": "nominal"}, "color": {"value": "#2b8a2b"}}}
     ]},
    {"width": 170, "height": 112,
     "transform": [{"filter": "datum.p === 'CRCp'"}],
     "encoding": {
      "x": {"field": "t", "type": "quantitative", "scale": {"domain": [0, 80], "nice": false, "zero": false}, "axis": {"values": [0, 20, 40, 60, 80], "title": "time (h)"}},
      "y": {"field": "y", "type": "quantitative", "scale": {"domain": [0, 2], "nice": false, "zero": false}, "axis": {"values": [0, 0.5, 1, 1.5, 2], "format": ".1f", "title": "RC (%)"}},
      "color": {"field": "g", "type": "nominal"}
     },
     "layer": [
      {"transform": [{"filter": "datum.k === 'ln'"}], "mark": {"type": "line", "strokeDash": [6, 3], "strokeWidth": 2.5}},
      {"transform": [{"filter": "datum.k === 'pt'"}], "mark": {"type": "rule", "strokeWidth": 1.5}, "encoding": {"y": {"field": "lo", "type": "quantitative"}, "y2": {"field": "hi"}}},
      {"transform": [{"filter": "datum.k === 'pt'"}], "mark": {"type": "tick", "orient": "horizontal", "size": 9, "thickness": 1.5, "opacity": 1}, "encoding": {"y": {"field": "lo", "type": "quantitative"}}},
      {"transform": [{"filter": "datum.k === 'pt'"}], "mark": {"type": "tick", "orient": "horizontal", "size": 9, "thickness": 1.5, "opacity": 1}, "encoding": {"y": {"field": "hi", "type": "quantitative"}}},
      {"transform": [{"filter": "datum.k === 'pt' && datum.g === 'control'"}], "mark": {"type": "point", "shape": "square", "filled": true, "size": 30, "opacity": 1}},
      {"transform": [{"filter": "datum.k === 'pt' && datum.g === '4°C'"}], "mark": {"type": "point", "shape": "triangle-up", "filled": true, "size": 30, "opacity": 1}},
      {"transform": [{"filter": "datum.k === 'pt' && datum.g === '22°C'"}], "mark": {"type": "point", "shape": "circle", "filled": true, "size": 30, "opacity": 1}},
      {"transform": [{"filter": "datum.k === 'ann' && datum.s === 'n.s.'"}], "mark": {"type": "text", "fontSize": 12, "fontWeight": "bold"}, "encoding": {"text": {"field": "s", "type": "nominal"}, "color": {"value": "#2b8a2b"}}}
     ]}
   ]}
  ]}
 ]}
]
}
